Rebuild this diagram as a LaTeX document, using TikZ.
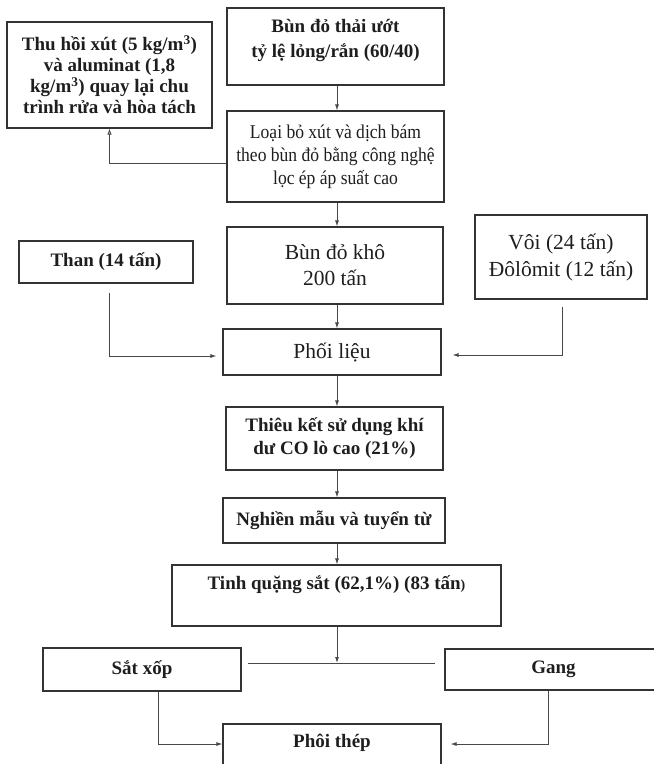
\documentclass[tikz,border=0pt]{standalone}
\usepackage{fontspec}
\setmainfont{Liberation Serif}
\newfontfamily\condfont{Liberation Serif}[FakeStretch=0.9]
\usetikzlibrary{arrows.meta}
\definecolor{linec}{HTML}{333333}
\definecolor{arrc}{HTML}{484848}
\definecolor{txt}{HTML}{1E1E1E}
\newcommand\liftup[2]{\raisebox{#1}[\height][\depth]{\begin{tabular}{@{}c@{}}#2\end{tabular}}}
\begin{document}
\begin{tikzpicture}[x=1pt,y=-1pt,
  box/.style={draw=linec, line width=1.1pt, align=center, inner sep=0pt, text=txt,
    font=\bfseries\fontsize{19}{21}\selectfont},
  reg/.style={font=\fontsize{21.5}{26}\selectfont},
  arr/.style={draw=arrc, line width=0.9pt, -{Latex[length=6pt,width=4pt]}},
  arro/.style={draw=arrc, line width=0.9pt, -{Latex[open,length=6pt,width=4.5pt]}},
  ln/.style={draw=arrc, line width=0.9pt}]
\path[use as bounding box] (0,0) rectangle (654,764);
\clip (0,0) rectangle (654,764);
\coordinate (axis) at (337,0);

\node[box, minimum width=205pt, minimum height=106pt] (thu) at (109.5,75)
  {Thu hồi xút (5 kg/m\textsuperscript{3})\\và aluminat (1,8\\kg/m\textsuperscript{3}) quay lại chu\\trình rửa và hòa tách};
\node[box, minimum width=217pt, minimum height=77pt, font=\bfseries\fontsize{19}{25}\selectfont] (bun) at (335.5,46.5)
  {\liftup{7pt}{Bùn đỏ thải ướt\\tỷ lệ lỏng/rắn (60/40)}};
\node[box, minimum width=217pt, minimum height=91pt, font=\condfont\fontsize{19.5}{23}\selectfont] (loai) at (335.5,156.5)
  {Loại bỏ xút và dịch bám\\theo bùn đỏ bằng công nghệ\\lọc ép áp suất cao};
\node[box, minimum width=216pt, minimum height=77pt, reg] (kho) at (335,265.5)
  {Bùn đỏ khô\\200 tấn};
\node[box, minimum width=174pt, minimum height=42pt] (than) at (106,262)
  {Than (14 tấn)};
\node[box, minimum width=172pt, minimum height=84pt, font=\fontsize{21.5}{27}\selectfont] (voi) at (561,257)
  {Vôi (24 tấn)\\Đôlômit (12 tấn)};
\node[box, minimum width=218pt, minimum height=46pt, reg] (phoi) at (332,352)
  {Phối liệu};
\node[box, minimum width=217pt, minimum height=63pt, font=\bfseries\fontsize{19}{23}\selectfont] (thieu) at (334.5,438.5)
  {Thiêu kết sử dụng khí\\dư CO lò cao (21\%)};
\node[box, minimum width=222pt, minimum height=45pt] (nghien) at (334,520.5)
  {Nghiền mẫu và tuyển từ};
\node[box, minimum width=329pt, minimum height=61pt] (tinh) at (336.5,595.5)
  {\liftup{10pt}{Tinh quặng sắt (62,1\%) (83 tấn{\fontsize{14}{16}\selectfont)}}};
\node[box, minimum width=198pt, minimum height=43pt] (satxop) at (142,669.5)
  {Sắt xốp};
\node[box, minimum width=217pt, minimum height=41pt] (gang) at (553.5,669.5)
  {Gang};
\node[box, minimum width=218pt, minimum height=51pt] (phoithep) at (332,749.5)
  {\liftup{6pt}{Phôi thép}};

\draw[arr] (axis |- bun.south) -- (axis |- loai.north);
\draw[arro] ([yshift=-6.5pt]loai.west) -| (thu.south);
\draw[arr] (axis |- loai.south) -- (axis |- kho.north);
\draw[arr] (axis |- kho.south) -- (axis |- phoi.north);
\draw[arr] ([xshift=3pt,yshift=-9pt]than.south) |- ([xshift=-6pt,yshift=-4pt]phoi.west);
\draw[arr] ([xshift=1pt,yshift=-7pt]voi.south) |- ([xshift=11pt,yshift=-3pt]phoi.east);
\draw[arr] (axis |- phoi.south) -- (axis |- thieu.north);
\draw[arr] (axis |- thieu.south) -- (axis |- nghien.north);
\draw[arr] (axis |- nghien.south) -- (axis |- tinh.north);
\coordinate (jl) at ([xshift=6pt,yshift=6.5pt]satxop.east);
\coordinate (jr) at ([xshift=-9pt,yshift=6.5pt]gang.west);
\draw[ln] (jl) -- (jr);
\draw[arr] (axis |- tinh.south) -- (axis |- jl);
\draw[arr] ([xshift=16pt]satxop.south) |- ([yshift=5.5pt]phoithep.west);
\draw[arr] ([xshift=-5.5pt]gang.south) |- ([xshift=9pt,yshift=5.5pt]phoithep.east);
\end{tikzpicture}
\end{document}
